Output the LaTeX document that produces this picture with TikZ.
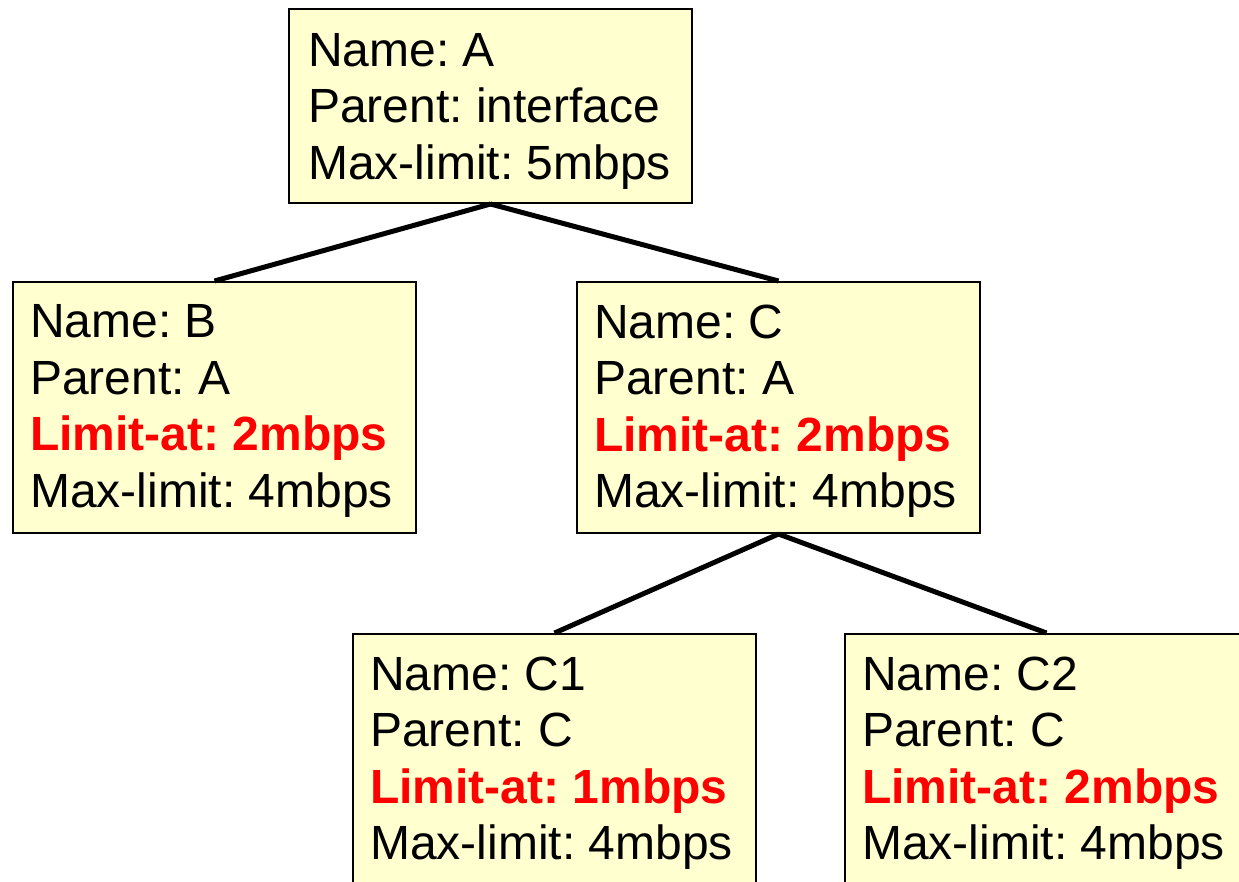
\documentclass[tikz,border=0pt]{standalone}
\usepackage{fontspec}
\setmainfont{Liberation Sans}
\usetikzlibrary{calc}
\definecolor{boxfill}{HTML}{FFFFD0}
\definecolor{limred}{HTML}{FF0000}
\newcommand{\limitat}[1]{\textcolor{limred}{\bfseries #1}}
\tikzset{
  box/.style={draw=black, line width=2pt, fill=boxfill, minimum width=403pt, inner sep=0pt, anchor=north west},
  txt/.style={font=\fontsize{48}{56.5}\selectfont\frenchspacing, align=left, inner sep=0pt, anchor=north west},
  link/.style={draw=black, line width=5pt}
}
\begin{document}
\begin{tikzpicture}[x=1pt,y=-1pt]
\useasboundingbox (0,0) rectangle (1239,882);
\clip (0,0) rectangle (1239,882);
\fill[white] (0,0) rectangle (1239,882);
\node[box, minimum height=194pt] (A) at (288,8) {};
\node[box, minimum height=251pt] (B) at (12,281) {};
\node[box, minimum height=251pt] (C) at (576,281) {};
\node[box, minimum height=300pt] (C1) at (352,633) {};
\node[box, minimum height=300pt] (C2) at (844,633) {};
\draw[link] (A.south) -- (B.north);
\draw[link] (A.south) -- (C.north);
\draw[link] (C.south) -- (C1.north);
\draw[link] (C.south) -- (C2.north);
\node[txt] (At) at ($(A.north west)+(20,25)$) {Name: A\\Parent: interface\\Max-limit: 5mbps};
\node[txt] (Bt) at ($(B.north west)+(18,23.5)$) {Name: B\\Parent: A\\\limitat{Limit-at: 2mbps}\\Max-limit: 4mbps};
\node[txt] (Ct) at ($(C.north west)+(18,23.5)$) {Name: C\\Parent: A\\\limitat{Limit-at: 2mbps}\\Max-limit: 4mbps};
\node[txt] (C1t) at ($(C1.north west)+(18,23.5)$) {Name: C1\\Parent: C\\\limitat{Limit-at: 1mbps}\\Max-limit: 4mbps};
\node[txt] (C2t) at ($(C2.north west)+(18,23.5)$) {Name: C2\\Parent: C\\\limitat{Limit-at: 2mbps}\\Max-limit: 4mbps};
\end{tikzpicture}
\end{document}
